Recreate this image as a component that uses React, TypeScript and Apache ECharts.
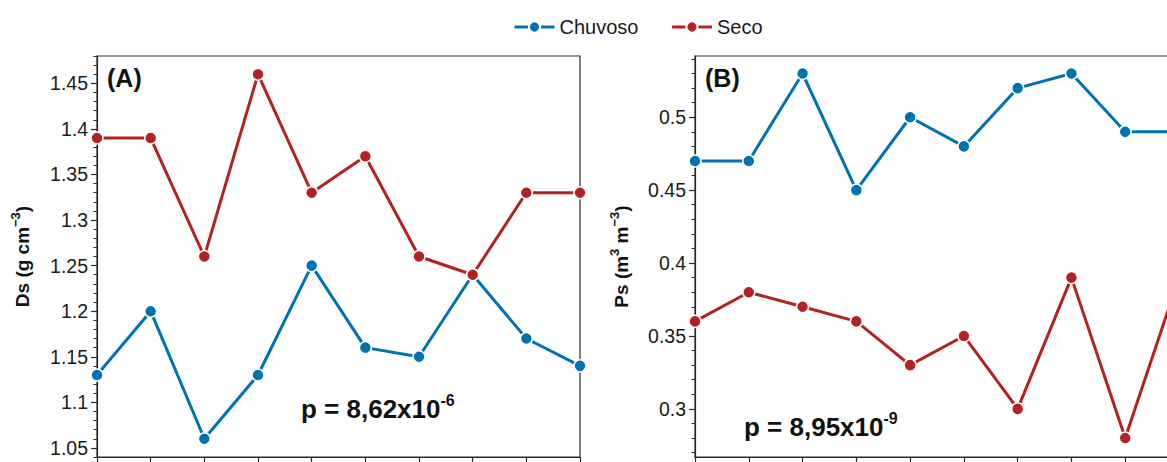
import React, { useEffect, useRef } from "react";
import * as echarts from "echarts";

const categories = ["1", "2", "3", "4", "5", "6", "7", "8", "9", "10"];
const dsChuvoso = [1.13, 1.2, 1.06, 1.13, 1.25, 1.16, 1.15, 1.24, 1.17, 1.14];
const dsSeco = [1.39, 1.39, 1.26, 1.46, 1.33, 1.37, 1.26, 1.24, 1.33, 1.33];
const psChuvoso = [0.47, 0.47, 0.53, 0.45, 0.5, 0.48, 0.52, 0.53, 0.49, 0.49];
const psSeco = [0.36, 0.38, 0.37, 0.36, 0.33, 0.35, 0.3, 0.39, 0.28, 0.39];
const dsMajorTicks = [1.05, 1.1, 1.15, 1.2, 1.25, 1.3, 1.35, 1.4, 1.45];
const psMajorTicks = [0.3, 0.35, 0.4, 0.45, 0.5];
const dsRange = [1.04, 1.48];
const psRange = [0.267, 0.542];

const BLUE = "#0072B2";
const RED = "#B22222";
const FONT = "Liberation Sans, Arial, sans-serif";
const AXIS = "#2a2a2a";
const CHART_W = 1186;

function minorTicks(lo: number, hi: number, step: number) {
  const out: number[] = [];
  const start = Math.ceil(lo / step - 1e-9);
  const end = Math.floor(hi / step + 1e-9);
  for (let k = start; k <= end; k++) out.push(+(k * step).toFixed(4));
  return out;
}

function yPair(gridIndex: number, range: number[], majors: number[], nameRich: string, nameGap: number) {
  const main = {
    type: "value",
    gridIndex,
    min: range[0],
    max: range[1],
    position: "left",
    name: nameRich,
    nameLocation: "middle",
    nameGap,
    nameRotate: 90,
    nameTextStyle: {
      fontFamily: FONT,
      rich: {
        a: { fontSize: 19, fontWeight: "bold", color: "#111", fontFamily: FONT, verticalAlign: "bottom", lineHeight: 23 },
        s: { fontSize: 13, fontWeight: "bold", color: "#111", fontFamily: FONT, verticalAlign: "top", lineHeight: 23 },
      },
    },
    axisLine: { show: true, lineStyle: { color: AXIS, width: 1.2 } },
    axisTick: { show: true, length: 6, customValues: majors, lineStyle: { color: AXIS, width: 1.2 } },
    axisLabel: {
      show: true,
      customValues: majors,
      fontSize: 19.5,
      fontFamily: FONT,
      color: "#1a1a1a",
      margin: 9,
      formatter: (v: number) => String(+v.toFixed(2)),
    },
    splitLine: { show: false },
  };
  const minor = {
    type: "value",
    gridIndex,
    min: range[0],
    max: range[1],
    position: "left",
    axisLine: { show: false },
    axisTick: { show: true, length: 3.5, customValues: minorTicks(range[0], range[1], 0.01), lineStyle: { color: AXIS, width: 1 } },
    axisLabel: { show: false },
    splitLine: { show: false },
  };
  return [main, minor];
}

function xAxis(gridIndex: number) {
  return {
    type: "category",
    gridIndex,
    data: categories,
    boundaryGap: false,
    axisLine: { show: true, lineStyle: { color: AXIS, width: 1.2 } },
    axisTick: { show: true, length: 6, lineStyle: { color: AXIS, width: 1.2 } },
    axisLabel: { show: false },
    splitLine: { show: false },
  };
}

function lineSeries(name: string, color: string, data: number[], xi: number, yi: number) {
  return {
    name,
    type: "line",
    xAxisIndex: xi,
    yAxisIndex: yi,
    data,
    symbol: "circle",
    symbolSize: 12,
    showAllSymbol: true,
    lineStyle: { color, width: 3 },
    itemStyle: { color, borderColor: "#ffffff", borderWidth: 1.5 },
    emphasis: { disabled: true },
  };
}

const pRich = {
  a: { fontSize: 26, fontWeight: "bold", fontFamily: FONT, fill: "#111", verticalAlign: "bottom", lineHeight: 30 },
  b: { fontSize: 16, fontWeight: "bold", fontFamily: FONT, fill: "#111", verticalAlign: "top", lineHeight: 30 },
};

export default function App() {
  const ref = useRef<HTMLDivElement>(null);
  useEffect(() => {
    if (!ref.current) return;
    const chart = echarts.init(ref.current, undefined, { renderer: "svg" });
    const [yA, yAm] = yPair(0, dsRange, dsMajorTicks, "{a|Ds (g cm}{s|−3}{a|)}", 65);
    const [yB, yBm] = yPair(1, psRange, psMajorTicks, "{a|Ps (m}{s|3}{a| m}{s|−3}{a|)}", 64);
    chart.setOption({
      animation: false,
      backgroundColor: "#ffffff",
      textStyle: { fontFamily: FONT },
      legend: {
        data: ["Chuvoso", "Seco"],
        left: 508,
        top: 12,
        itemWidth: 40,
        itemHeight: 14,
        itemGap: 32,
        lineStyle: { width: 3 },
        textStyle: { fontSize: 20, fontFamily: FONT, color: "#1a1a1a" },
      },
      grid: [
        { left: 97, top: 56, right: CHART_W - 580, bottom: 5, show: true, borderColor: AXIS, borderWidth: 1.2, backgroundColor: "transparent" },
        { left: 695, top: 56, right: CHART_W - 1179, bottom: 5, show: true, borderColor: AXIS, borderWidth: 1.2, backgroundColor: "transparent" },
      ],
      xAxis: [xAxis(0), xAxis(1)],
      yAxis: [yA, yAm, yB, yBm],
      series: [
        lineSeries("Chuvoso", BLUE, dsChuvoso, 0, 0),
        lineSeries("Seco", RED, dsSeco, 0, 0),
        lineSeries("Chuvoso", BLUE, psChuvoso, 1, 2),
        lineSeries("Seco", RED, psSeco, 1, 2),
      ],
      graphic: [
        { type: "text", left: 107, top: 65, style: { text: "(A)", font: `bold 25px ${FONT}`, fill: "#111" } },
        { type: "text", left: 705, top: 65, style: { text: "(B)", font: `bold 25px ${FONT}`, fill: "#111" } },
        { type: "text", left: 301, top: 392, style: { text: "{a|p = 8,62x10}{b|-6}", rich: pRich } },
        { type: "text", left: 744, top: 410, style: { text: "{a|p = 8,95x10}{b|-9}", rich: pRich } },
      ],
    });
    return () => chart.dispose();
  }, []);
  return (
    <div style={{ position: "absolute", left: 0, top: 0, width: 1167, height: 462, overflow: "hidden" }}>
      <div ref={ref} style={{ width: CHART_W, height: 462 }} />
    </div>
  );
}
